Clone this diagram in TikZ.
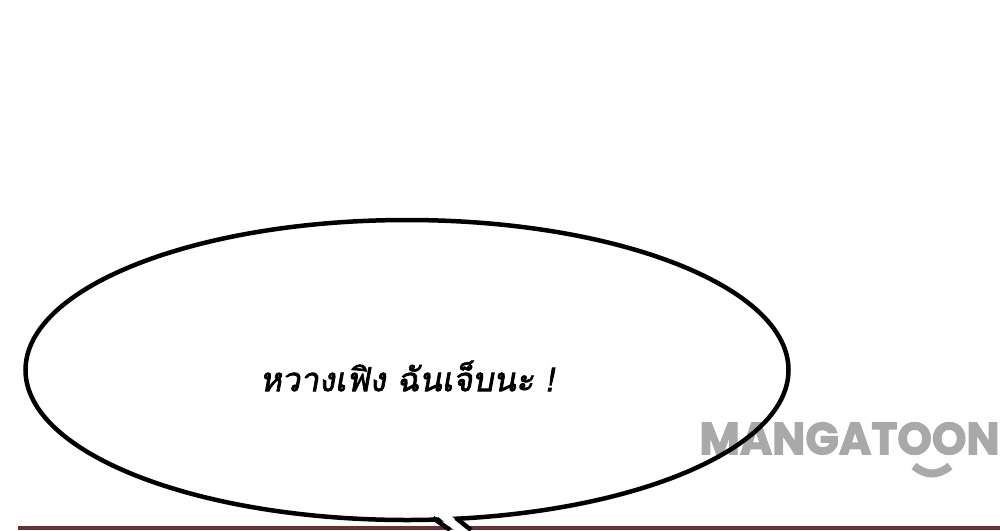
\documentclass[tikz,border=0pt]{standalone}
\usepackage{fontspec}
\newfontfamily\thaifont[Script=Thai,FakeSlant=0.18,FakeBold=2.2]{Loma}
\newfontfamily\wmfont[FakeBold=2.5]{Poppins}
\definecolor{wmgray}{HTML}{A9A9A9}
\definecolor{barbrown}{HTML}{6B3030}
\tikzset{
  balloon/.style={draw=black,line width=4.5pt},
  tailedge/.style={draw=black,line width=4.5pt},
  speech/.style={font=\thaifont\fontsize{33}{33}\selectfont,inner sep=0pt,text=black},
  wmark/.style={font=\wmfont\bfseries\fontsize{47}{47}\selectfont,text=wmgray,inner sep=0pt},
}
\begin{document}
\begin{tikzpicture}[x=1pt,y=-1pt]
\useasboundingbox (0,0) rectangle (1000,530);
\fill[white] (0,0) rectangle (1000,530);
\fill[barbrown] (18,526) rectangle (1000,530);
\node[wmark,anchor=center] (wm) at (849.5,438.5) {\resizebox{300pt}{32pt}{MANGATOON}};
\draw[wmgray,line width=8pt] (914,466) .. controls (926,476) and (938,476) .. (950,466);
\path[balloon] (407,370) ellipse [x radius=381.5,y radius=150];
\fill[white] (435,514) -- (449,514) -- (469,531) -- (455,531) -- cycle;
\coordinate (ta) at (433,518);
\coordinate (tb) at (450,530);
\coordinate (tc) at (456,518);
\coordinate (td) at (471,530);
\path[tailedge] (ta) -- (tb);
\path[tailedge] (tc) -- (td);
\node[speech] (txt) at (407,376) {หวางเฟิง ฉันเจ็บนะ !};
\end{tikzpicture}
\end{document}
